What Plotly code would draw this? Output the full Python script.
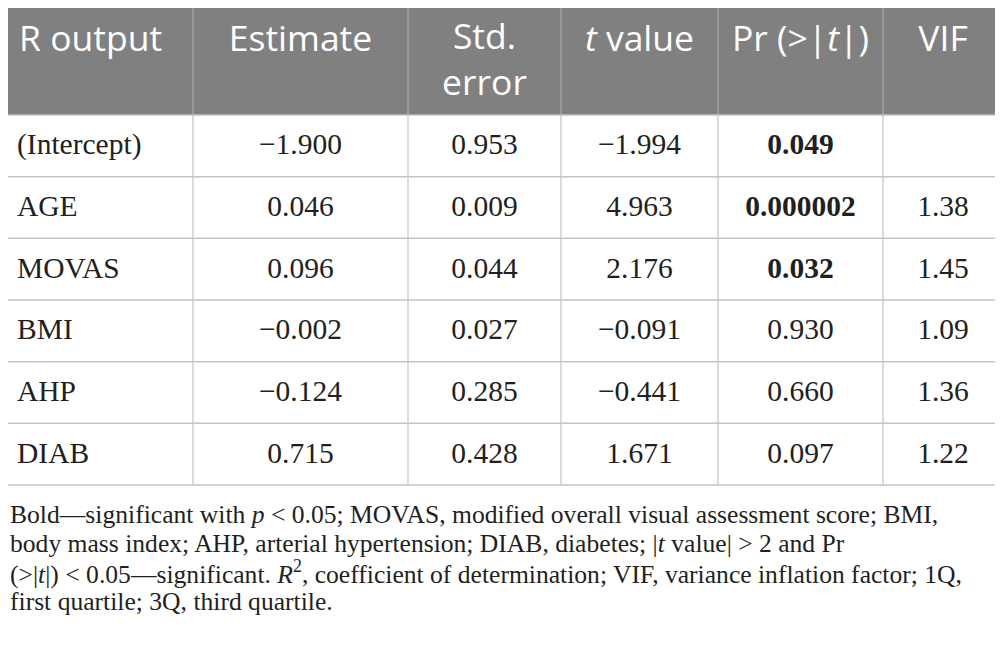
import plotly.graph_objects as go

# regression summary values
terms = ["(Intercept)", "AGE", "MOVAS", "BMI", "AHP", "DIAB"]
estimate = [-1.900, 0.046, 0.096, -0.002, -0.124, 0.715]
std_error = [0.953, 0.009, 0.044, 0.027, 0.285, 0.428]
t_value = [-1.994, 4.963, 2.176, -0.091, -0.441, 1.671]
p_value = [0.049, 0.000002, 0.032, 0.930, 0.660, 0.097]
vif = [None, 1.38, 1.45, 1.09, 1.36, 1.22]

headers = ["R output", "Estimate", "Std.<br>error", "<i>t</i> value",
           "Pr (&gt;|<i>t</i>|)", "VIF"]
col_widths = [193, 215, 153, 157, 165, 120]

footnote = [
    "Bold\u2014significant with <i>p</i> &lt; 0.05; MOVAS, modified overall visual assessment score; BMI,",
    "body mass index; AHP, arterial hypertension; DIAB, diabetes; |<i>t</i> value| &gt; 2 and Pr",
    "(&gt;|<i>t</i>|) &lt; 0.05\u2014significant. <i>R</i><sup>2</sup>, coefficient of determination; "
    "VIF, variance inflation factor; 1Q,",
    "first quartile; 3Q, third quartile.",
]


def fmt(v, nd=3):
    return f"{v:.{nd}f}".replace("-", "\u2212")


def fmt_p(p):
    s = fmt(p, 6 if p < 0.001 else 3)
    return f"<b>{s}</b>" if p < 0.05 else s


columns = [
    terms,
    [fmt(v) for v in estimate],
    [fmt(v) for v in std_error],
    [fmt(v) for v in t_value],
    [fmt_p(p) for p in p_value],
    [None if v is None else fmt(v, 2) for v in vif],
]

# layout in pixel units of the 1003x650 picture (page body adds an 8px margin)
OFF = 8
W, H = 1003, 650
FIG_H = 620
head_top, head_bot = 4, 115
row_h = (485 - head_bot) / len(terms)
table_bot = head_bot + row_h * len(terms)

edges = [0]
for w in col_widths:
    edges.append(edges[-1] + w)
centers = [(a + b) / 2 for a, b in zip(edges[:-1], edges[1:])]
row_mid = [head_bot + row_h * (i + 0.5) + 1 for i in range(len(terms))]

fig = go.Figure()

# header band and grid
fig.add_shape(type="rect", x0=edges[0], x1=edges[-1] + 10, y0=head_top, y1=head_bot,
              fillcolor="#808080", line_width=0, layer="below")
for e in edges[1:-1]:
    fig.add_shape(type="line", x0=e, x1=e, y0=head_top, y1=head_bot,
                  line=dict(color="#ababab", width=1.2))
    fig.add_shape(type="line", x0=e, x1=e, y0=head_bot, y1=table_bot,
                  line=dict(color="#c4c4c4", width=1.2))
for i in range(len(terms) + 1):
    y = head_bot + row_h * i
    fig.add_shape(type="line", x0=edges[0], x1=edges[-1] + 10, y0=y, y1=y,
                  line=dict(color="#c4c4c4", width=1.5))

# header text
head_y = [42, 42, 63, 42, 42, 42]
fig.add_trace(go.Scatter(
    x=[19] + centers[1:], y=head_y, mode="text", text=headers,
    textposition=["middle right"] + ["middle center"] * 5,
    textfont=dict(family="Open Sans", size=35.5, color="white"),
    hoverinfo="skip", showlegend=False,
))

# body text (cells without a value are left out)
for j, col in enumerate(columns):
    ys = [y for y, t in zip(row_mid, col) if t is not None]
    txt = [t for t in col if t is not None]
    fig.add_trace(go.Scatter(
        x=[17 if j == 0 else centers[j]] * len(txt), y=ys,
        mode="text", text=txt,
        textposition="middle right" if j == 0 else "middle center",
        textfont=dict(family="Liberation Serif", size=29.5, color="#231f20"),
        hoverinfo="skip", showlegend=False,
    ))

baselines = [523, 552, 581, 610]
for line, b in zip(footnote, baselines):
    fig.add_annotation(
        text=line, x=OFF, y=b - 8.6, xref="x", yref="y",
        xanchor="left", yanchor="middle", showarrow=False, align="left",
        font=dict(family="Liberation Serif", size=25.6, color="#231f20"),
    )

fig.update_xaxes(range=[OFF, W], visible=False, fixedrange=True)
fig.update_yaxes(range=[OFF + FIG_H, OFF], visible=False, fixedrange=True)
fig.update_layout(
    width=W - OFF, height=FIG_H,
    margin=dict(l=0, r=0, t=0, b=0),
    paper_bgcolor="white", plot_bgcolor="white",
)
fig.write_html("out.html")
